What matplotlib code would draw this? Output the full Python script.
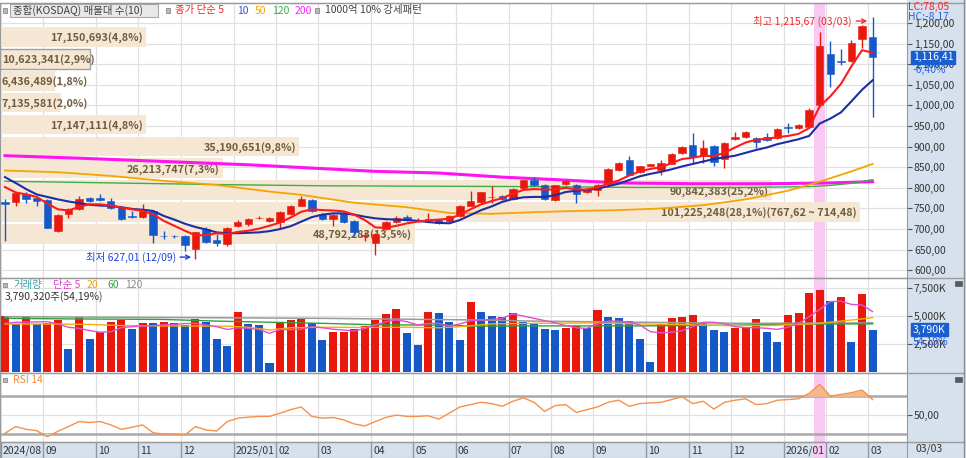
import numpy as np
import pandas as pd
import matplotlib
matplotlib.use('Agg')
import matplotlib.pyplot as plt
import matplotlib.transforms as mtransforms
from matplotlib.patches import Rectangle
from matplotlib.lines import Line2D

plt.rcParams['font.family'] = ['Noto Sans CJK KR', 'DejaVu Sans']
plt.rcParams['axes.unicode_minus'] = False

# KOSDAQ weekly, first week starts 2024-08-05
week_start = '2024-08-05'
highlight_week = '2026-01-26'

opens = [765, 765, 786, 776, 770, 696, 736, 748, 776, 775,
         769, 754, 731, 730, 744, 684, 684, 684, 651, 701,
         674, 663, 707, 712, 726, 720, 717, 736, 757, 771,
         737, 724, 738, 720, 682, 666, 700, 716, 730, 721,
         723, 722, 719, 732, 757, 765, 777, 781, 773, 800,
         818, 808, 770, 810, 808, 790, 794, 810, 844, 867,
         838, 854, 843, 859, 884, 904, 878, 902, 870, 918,
         924, 920, 923, 921, 947, 945, 948, 1000, 1125, 1108,
         1107, 1161, 1165]
highs = [772, 790, 789, 778, 772, 736, 750, 780, 778, 784,
         775, 756, 744, 760, 746, 696, 686, 686, 694, 704,
         687, 705, 722, 727, 732, 730, 743, 758, 780, 773,
         739, 736, 740, 722, 692, 690, 720, 731, 733, 726,
         738, 724, 733, 758, 792, 791, 804, 783, 799, 820,
         827, 810, 808, 818, 810, 800, 810, 848, 862, 877,
         854, 858, 868, 885, 901, 933, 916, 904, 912, 935,
         938, 924, 932, 945, 958, 955, 993, 1177, 1156, 1137,
         1159, 1196, 1215.67]
lows = [672, 756, 764, 756, 702, 694, 727, 746, 766, 769,
        748, 722, 728, 728, 667, 676, 678, 647, 627.01, 667,
        660, 660, 705, 708, 724, 718, 703, 734, 755, 742,
        723, 708, 714, 684, 672, 637, 697, 714, 720, 718,
        720, 712, 717, 730, 755, 763, 764, 770, 771, 798,
        804, 770, 768, 808, 764, 788, 780, 808, 842, 830,
        836, 852, 832, 857, 882, 860, 860, 852, 848, 916,
        922, 896, 914, 919, 932, 943, 946, 998, 1045, 1097,
        1105, 1140, 973]
closes = [762, 788, 772, 768, 703, 733, 748, 773, 768, 771,
          752, 725, 729, 744, 685, 682, 682, 661.34, 692, 669,
          666, 703, 717, 724, 728, 728, 741, 756, 773, 744,
          725, 734, 716, 692, 686, 687, 717, 728, 722, 723,
          725, 714, 731, 756, 768, 789, 779, 773, 797, 818,
          806, 772, 806, 816, 784, 798, 808, 845, 860, 832,
          852, 857, 860, 883, 899, 875, 896, 862, 910, 923,
          936, 912, 916, 943, 945, 953, 990, 1145, 1077, 1105,
          1151, 1192.74, 1116.41]

ma5 = [802, 789, 784, 778, 762, 748, 745, 754, 760, 760,
       757, 752, 748, 744, 736, 720, 708, 696, 685, 685,
       690, 688, 693, 696, 701, 708, 716, 728, 742, 748,
       746, 745, 743, 735, 722, 704, 703, 708, 714, 718,
       721, 723, 725, 735, 748, 760, 768, 775, 786, 795,
       797, 796, 796, 800, 796, 796, 801, 810, 818, 830,
       840, 846, 850, 860, 870, 873, 878, 877, 885, 898,
       910, 917, 919, 923, 926, 931, 945, 998, 1022, 1052,
       1095, 1134, 1128]
ma10 = [826, 812, 797, 784, 778, 772, 767, 763, 759, 757,
        756, 753, 749, 747, 744, 732, 723, 713, 705, 699,
        692, 690, 690, 691, 692, 695, 700, 707, 718, 729,
        735, 738, 738, 735, 730, 726, 724, 723, 722, 720,
        717, 715, 714, 722, 734, 746, 755, 766, 773, 777,
        778, 778, 782, 790, 793, 795, 798, 804, 810, 819,
        828, 834, 839, 845, 852, 858, 864, 870, 874, 878,
        885, 892, 898, 906, 912, 918, 926, 956, 968, 983,
        1010, 1038, 1061]
ma50_idx = [0, 5, 10, 15, 20, 25, 28, 33, 38, 42, 46, 50, 54, 58, 62, 66, 70, 74, 77, 80, 82]
ma50 = [842, 838, 829, 817, 807, 791, 783, 764, 753, 739, 737, 741, 744, 746, 750, 758, 772, 793, 815, 840, 858]
ma120_idx = [0, 10, 20, 30, 40, 50, 60, 70, 76, 78, 80, 82]
ma120 = [816, 812, 808, 805, 804, 803, 801, 801, 803, 806, 811, 820]
ma200_idx = [0, 7, 15, 23, 29, 35, 41, 47, 52, 55, 58, 65, 72, 78, 82]
ma200 = [878, 872, 864, 856, 848, 840, 836, 826, 820, 816, 812, 810, 810, 812, 815]

# volume in thousand shares
volume_k = [5010, 4290, 5010, 4290, 4410, 4650, 2000, 4950, 2940, 3540,
            4500, 4650, 3840, 4410, 4350, 4470, 4410, 4200, 4710, 4470,
            2940, 2310, 5340, 4290, 4200, 750, 4440, 4620, 4710, 4410,
            2850, 3540, 3600, 3840, 4140, 4650, 5190, 5640, 3510, 2400,
            5340, 5250, 4500, 2850, 6300, 5400, 5010, 4920, 5310, 4440,
            4410, 3810, 3720, 3900, 4140, 3900, 5550, 4920, 4800, 4560,
            2910, 840, 4290, 4830, 4920, 5100, 4410, 3750, 3570, 3900,
            4050, 4770, 3600, 2640, 5100, 5250, 7050, 7350, 6360, 6750,
            2700, 6995, 3790.32]
vol_ma5 = [4340, 4440, 4460, 4480, 4500, 4300, 4000, 3900, 3700, 3550,
           3600, 3960, 4050, 4100, 4150, 4200, 4250, 4330, 4350, 4200,
           4050, 3800, 3950, 3900, 3800, 3450, 3800, 3780, 3820, 4050,
           3950, 3820, 3750, 3660, 3880, 4200, 4500, 4650, 4500, 4200,
           4350, 4350, 4100, 4300, 4580, 4650, 4700, 4800, 5200, 5000,
           4800, 4600, 4400, 4150, 3950, 3900, 4300, 4550, 4550, 4450,
           4200, 3600, 3500, 3550, 3700, 4050, 4450, 4450, 4300, 4050,
           3960, 3960, 3900, 3810, 4000, 4350, 4950, 5600, 6300, 6350,
           6050, 6000, 5400]
vol_ma20_idx = [0, 5, 8, 11, 15, 19, 21, 23, 25, 27, 30, 34, 38, 41, 43, 46, 50, 55, 60, 64, 68, 72, 75, 77, 79, 81, 82]
vol_ma20 = [4290, 4290, 4250, 4150, 4120, 4100, 4100, 4000, 3750, 3950, 4000, 3980, 4000, 3950, 4050, 4300, 4350,
            4380, 4300, 4250, 4150, 4150, 4250, 4350, 4550, 4750, 4860]
vol_ma60_idx = [0, 6, 15, 20, 25, 30, 35, 40, 45, 50, 55, 60, 65, 70, 75, 80, 82]
vol_ma60 = [4800, 4750, 4700, 4550, 4450, 4350, 4220, 4200, 4100, 4120, 4120, 4120, 4150, 4200, 4280, 4300, 4300]
vol_ma120_idx = [0, 10, 20, 30, 40, 45, 50, 60, 70, 80, 82]
vol_ma120 = [4950, 4900, 4850, 4800, 4700, 4650, 4550, 4450, 4350, 4380, 4400]

rsi = [30.4, 37.6, 34.7, 33.3, 26.8, 32.6, 37.6, 43.0, 42.0, 43.0,
       39.4, 34.7, 36.9, 39.4, 31.1, 29.6, 29.6, 28.6, 37.6, 34.0,
       32.9, 43.0, 46.6, 47.7, 48.5, 48.5, 52.0, 55.7, 58.6, 48.5,
       46.6, 47.4, 44.8, 40.5, 38.3, 43.0, 47.4, 49.9, 48.5, 48.5,
       49.2, 45.6, 52.0, 58.6, 61.1, 63.6, 62.2, 59.3, 64.7, 68.3,
       63.6, 53.9, 60.0, 61.1, 52.8, 55.7, 58.6, 63.6, 65.8, 59.3,
       62.2, 62.9, 63.6, 66.5, 69.4, 62.2, 64.7, 56.4, 63.6, 65.8,
       67.3, 61.1, 62.2, 65.8, 66.5, 67.3, 73.1, 82.8, 70.2, 72.0,
       73.8, 76.7, 66.5]

# volume profile (매물대), bands from lowest close upward
vp_volume = [48792283, 101225248, 90842383, 26213747, 35190651,
             17147111, 7135581, 6436489, 10623341, 17150693]
hi_date = '03/03'
lo_date = '12/09'
today = '03/03'

# ---- styling ----
W, H = 966, 458
FS = 7.5
RED = '#e8190c'
BLUE = '#1559c9'
GRID = '#e0e0e0'
PANEL = '#d7e1ee'
BORDER = '#9a9a9a'
BEIGE = '#f5e7d4'
XMIN, XMAX = -0.47, 85.25


def kr(v, nd=2):
    return f'{v:,.{nd}f}'.replace('.', ',')


def fpos(px, py):
    return px / W, 1 - py / H


n = len(closes)
x = np.arange(n)
o, h, l, c = map(np.array, (opens, highs, lows, closes))
vol = np.array(volume_k)
rsi = np.array(rsi)
dates = pd.date_range(week_start, periods=n, freq='W-MON')
month_idx = [i for i in range(n) if i == 0 or dates[i].month != dates[i - 1].month]
month_lbl = [f'{dates[i].year}/{dates[i].month:02d}' if (i == 0 or dates[i].month == 1)
             else f'{dates[i].month:02d}' for i in month_idx]
hl = int(np.where(dates == pd.Timestamp(highlight_week))[0][0])

fig = plt.figure(figsize=(W / 100, H / 100), dpi=100)
fig.patch.set_facecolor('white')
fig.add_artist(Rectangle((907 / W, 0), 59 / W, 1, transform=fig.transFigure,
                         fc=PANEL, ec='none', zorder=-5))


def panel(top, bot):
    a = fig.add_axes([0, 1 - bot / H, 907 / W, (bot - top) / H])
    a.set_xlim(XMIN, XMAX)
    a.set_xticks([])
    for s in a.spines.values():
        s.set_color(BORDER)
    a.yaxis.tick_right()
    a.tick_params(axis='y', right=True, left=False, labelright=True, labelleft=False,
                  length=3.5, width=0.8, color='#555555', pad=1.5, labelsize=FS, labelcolor='#333333')
    return a


ax_p = panel(3, 277.5)
ax_v = panel(277.5, 372.5)
ax_r = panel(372.5, 441.5)
ax_x = panel(441.5, 458)
ax_x.set_facecolor(PANEL)
ax_x.set_ylim(0, 1)
ax_x.set_yticks([])

for a in (ax_p, ax_v, ax_r):
    for m in month_idx:
        a.axvline(m - 0.4, color=GRID, lw=0.9, zorder=0)
for a in (ax_p, ax_v, ax_r, ax_x):
    a.axvspan(hl - 0.5, hl + 0.5, color='#f9c8f3', lw=0, zorder=0.6)

# ---- price panel ----
ax_p.set_ylim(582.5, 1248.5)
pticks = np.arange(600, 1201, 50)
ax_p.set_yticks(pticks)
ax_p.set_yticklabels([kr(v) for v in pticks])
for v in pticks:
    ax_p.axhline(v, color=GRID, lw=0.9, zorder=0)

# volume profile bars
band_lo = c.min()
band_step = (c.max() - c.min()) / len(vp_volume)
vp_total = sum(vp_volume)
vp_max = max(vp_volume)
px_per_unit = 907 / (XMAX - XMIN)
for k, v in enumerate(vp_volume):
    y0 = band_lo + k * band_step
    length_px = v / vp_max * 860
    length = length_px / px_per_unit
    edge = '#a0a0a0' if y0 <= c[-1] < y0 + band_step else 'none'
    ax_p.barh(y0 + band_step / 2, length, left=XMIN, height=band_step * 0.9,
              color=BEIGE, edgecolor=edge, lw=1, zorder=1)
    lbl = kr(v / vp_total * 100, 1).join([f'{v:,}(', '%)'])
    if v == vp_max:
        lbl += f'({kr(y0 + band_step)} ~ {kr(y0)})'
    if length_px > 100:
        tx, ha = XMIN + length - 3 / px_per_unit, 'right'
    else:
        tx, ha = XMIN + 2 / px_per_unit, 'left'
    ax_p.text(tx, y0 + band_step / 2 - 2, lbl, ha=ha, va='center', fontsize=7.8,
              fontweight='bold', color='#6e5c3c', zorder=2)

ax_p.plot(ma200_idx, ma200, color='#ff14f0', lw=2.2, zorder=2)
ax_p.plot(ma120_idx, ma120, color='#3cae48', lw=1.0, zorder=2)
ax_p.plot(ma50_idx, ma50, color='#f5a500', lw=1.3, zorder=2)

cols = np.where(c >= o, RED, BLUE)
ax_p.vlines(x, l, h, colors=cols, lw=1, zorder=3)
ax_p.bar(x, np.maximum(np.abs(c - o), 1.8), bottom=np.minimum(o, c), width=0.7,
         color=cols, edgecolor=cols, lw=0.4, zorder=4)
ax_p.plot(x, ma10, color='#1c2da6', lw=1.5, zorder=5)
ax_p.plot(x, ma5, color='#ff1a1a', lw=1.5, zorder=5)

hi_i = int(np.argmax(h))
lo_i = int(np.argmin(l))
ax_p.annotate(f'최고 {kr(h[hi_i])} ({hi_date})', xy=(hi_i - 0.5, h[hi_i] - 11), xytext=(-11, 0),
              textcoords='offset points', ha='right', va='center', fontsize=FS, color='#ee2a2a',
              arrowprops=dict(arrowstyle='->', color='#ee2a2a', lw=1, shrinkA=1, shrinkB=0), zorder=6)
ax_p.annotate(f'최저 {kr(l[lo_i])} ({lo_date})', xy=(lo_i - 0.4, l[lo_i] + 5), xytext=(-11, 0),
              textcoords='offset points', ha='right', va='center', fontsize=FS, color='#2040e0',
              arrowprops=dict(arrowstyle='->', color='#2040e0', lw=1, shrinkA=1, shrinkB=0), zorder=6)

blend_p = mtransforms.blended_transform_factory(ax_p.transAxes, ax_p.transData)
ax_p.text(1.0066, c[-1], kr(c[-1]), transform=blend_p, ha='left', va='center', fontsize=FS,
          color='white', clip_on=False, zorder=10,
          bbox=dict(boxstyle='square,pad=0.18', fc='#1a5fd0', ec='#1a5fd0'))
chg = (c[-1] / c[-2] - 1) * 100
ax_p.text(1.0066, c[-1], f'{kr(chg)}%', ha='left', va='center', fontsize=FS, color='#2a62e0',
          clip_on=False, zorder=10,
          transform=mtransforms.offset_copy(blend_p, fig=fig, y=-12.5, units='dots'))

# ---- volume panel ----
ax_v.set_ylim(-70, 8471)
vticks = [2500, 5000, 7500]
ax_v.set_yticks(vticks)
ax_v.set_yticklabels([f'{v:,}K' for v in vticks])
for v in vticks:
    ax_v.axhline(v, color=GRID, lw=0.9, zorder=0)
vcols = [RED] + [RED if vol[i] > vol[i - 1] else BLUE for i in range(1, n)]
ax_v.bar(x, vol, width=0.76, color=vcols, lw=0, zorder=2)
ax_v.plot(vol_ma120_idx, vol_ma120, color='#9a9a9a', lw=1.1, zorder=3)
ax_v.plot(vol_ma60_idx, vol_ma60, color='#2ea040', lw=1.0, zorder=3)
ax_v.plot(vol_ma20_idx, vol_ma20, color='#f5b000', lw=1.0, zorder=3)
ax_v.plot(x, vol_ma5, color='#e050d0', lw=1.0, zorder=3)
blend_v = mtransforms.blended_transform_factory(ax_v.transAxes, ax_v.transData)
ax_v.text(1.0066, vol[-1], f'{vol[-1]:,.0f}K', transform=blend_v, ha='left', va='center', fontsize=FS,
          color='white', clip_on=False, zorder=10,
          bbox=dict(boxstyle='square,pad=0.18', fc='#1a5fd0', ec='#1a5fd0'))
vchg = vol[-1] / vol[-2] * 100
ax_v.text(1.0066, vol[-1], f'{kr(vchg)}%', ha='left', va='center', fontsize=FS, color='#2a62e0',
          clip_on=False, zorder=10,
          transform=mtransforms.offset_copy(blend_v, fig=fig, y=-12, units='dots'))

# ---- RSI panel ----
ax_r.set_ylim(21.7, 95.4)
ax_r.set_yticks([50])
ax_r.set_yticklabels(['50,00'])
ax_r.axhline(50, color=GRID, lw=0.9, zorder=0)
ax_r.axhline(70, color='#a8a8a8', lw=1.8, zorder=1)
ax_r.axhline(30, color='#a8a8a8', lw=1.8, zorder=1)
ax_r.fill_between(x, rsi, 70, where=rsi > 70, interpolate=True, color='#f6b88a', lw=0, zorder=2)
ax_r.fill_between(x, rsi, 30, where=rsi < 30, interpolate=True, color='#a6dced', lw=0, zorder=2)
ax_r.plot(x, rsi, color='#f7904a', lw=1.0, zorder=3)

# ---- date strip ----
for m, lbl in zip(month_idx, month_lbl):
    ax_x.axvline(m - 0.4, color='#8d99aa', lw=1, zorder=1)
    ax_x.text(m - 0.4 + 2.2 / px_per_unit, 0.45, lbl, ha='left', va='center', fontsize=FS, color='#333333')
fig.text(*fpos(916, 449), today, ha='left', va='center', fontsize=FS, color='#333333')

# panel borders on the right column
for yy in (2.5, 277.5, 372.5, 441.5):
    fig.add_artist(Line2D([0, 963.5 / W], [1 - yy / H] * 2, color=BORDER, lw=1, transform=fig.transFigure))
fig.add_artist(Line2D([963.5 / W] * 2, [0, 1], color='#8c8c8c', lw=1, transform=fig.transFigure))
for yy in (280.5, 376.5):
    fig.add_artist(Rectangle(fpos(955, yy + 5), 7 / W, 5 / H, transform=fig.transFigure,
                             fc='#5a5a5a', ec='#5a5a5a', lw=0.5))

# ---- headers ----
def icon(px, py):
    fig.add_artist(Rectangle(fpos(px, py + 2), 4 / W, 4 / H, transform=fig.transFigure,
                             fc='#b8b8b8', ec='#8a8a8a', lw=0.6))


icon(3, 10.5)
fig.add_artist(Rectangle(fpos(10, 17), 148 / W, 13 / H, transform=fig.transFigure,
                         fc='#e8e8e8', ec='#a8a8a8', lw=0.8))
fig.text(*fpos(13, 10.5), '종합(KOSDAQ) 매물대 수(10)', ha='left', va='center', fontsize=FS, color='#404040')
icon(166, 10.5)
for px, txt, col in [(175, '종가 단순 5', '#ff2020'), (237, '10', '#3050d0'), (255, '50', '#f5a500'),
                     (272, '120', '#30b040'), (295, '200', '#ff20ff')]:
    fig.text(*fpos(px, 10.5), txt, ha='left', va='center', fontsize=FS, color=col)
icon(315, 10.5)
fig.text(*fpos(325, 10.5), '1000억 10% 강세패턴', ha='left', va='center', fontsize=FS, color='#404040')

lc = (c[-1] / l.min() - 1) * 100
hc = (c[-1] / h.max() - 1) * 100
fig.text(*fpos(908, 7), f'LC:{kr(lc)}', ha='left', va='center', fontsize=FS, color='#ee2a2a')
fig.text(*fpos(908, 17), f'HC:{kr(hc)}', ha='left', va='center', fontsize=FS, color='#2a62e0')

icon(3, 285)
for px, txt, col in [(13, '거래량', '#40a0a8'), (53, '단순 5', '#e040c8'), (87, '20', '#f0a000'),
                     (107, '60', '#2ea040'), (125, '120', '#8a8a8a')]:
    fig.text(*fpos(px, 285), txt, ha='left', va='center', fontsize=FS, color=col)
fig.text(*fpos(5, 296.5), f'{vol[-1] * 1000:,.0f}주({kr(vchg)}%)', ha='left', va='center',
         fontsize=FS, color='#333333')

icon(3, 380)
fig.text(*fpos(13, 380), 'RSI 14', ha='left', va='center', fontsize=FS, color='#f08a40')

fig.savefig('out.png', dpi=100)
